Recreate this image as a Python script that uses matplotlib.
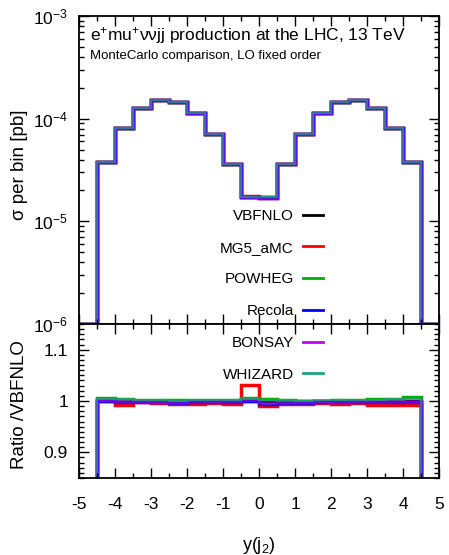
import numpy as np
import matplotlib
matplotlib.use("Agg")
import matplotlib.pyplot as plt
from matplotlib.ticker import MultipleLocator, LogLocator, FuncFormatter, NullFormatter
from matplotlib.lines import Line2D

plt.rcParams['font.family'] = ['Liberation Sans', 'DejaVu Sans']
plt.rcParams['mathtext.fontset'] = 'custom'
plt.rcParams['mathtext.rm'] = 'Liberation Sans'
plt.rcParams['mathtext.it'] = 'Liberation Sans:italic'
plt.rcParams['mathtext.bf'] = 'Liberation Sans:bold'
plt.rcParams['axes.unicode_minus'] = False

# bins of y(j2), width 0.5 between -4.5 and 4.5
bin_lo = -4.5
bin_w = 0.5

# VBFNLO cross section per bin [pb]
vbfnlo = [3.77e-5, 8.1e-5, 1.27e-4, 1.53e-4, 1.45e-4, 1.13e-4, 7.15e-5, 3.63e-5, 1.71e-5,
          1.71e-5, 3.63e-5, 7.15e-5, 1.13e-4, 1.45e-4, 1.53e-4, 1.27e-4, 8.1e-5, 3.77e-5]

# ratios to VBFNLO
r_mg5 = [1.001, 0.9915, 0.998, 0.997, 0.994, 0.995, 0.996, 0.995, 1.031,
         0.990, 0.994, 0.995, 0.996, 0.994, 0.997, 0.993, 0.993, 0.993]
r_powheg = [1.005, 1.004, 1.002, 1.001, 1.001, 1.002, 1.002, 1.002, 1.005,
            1.004, 1.002, 1.000, 1.000, 1.001, 1.002, 1.004, 1.003, 1.007]
r_recola = [1.000, 0.999, 0.998, 0.998, 0.997, 0.998, 0.998, 0.998, 1.000,
            0.995, 0.996, 0.997, 0.998, 0.998, 0.998, 0.999, 0.998, 0.998]
r_bonsay = [1.001, 1.000, 1.000, 0.999, 0.999, 1.000, 1.000, 1.000, 1.002,
            0.998, 0.998, 0.999, 1.000, 0.999, 1.000, 1.000, 1.000, 1.000]
r_whizard = [1.004, 1.003, 1.002, 1.001, 1.000, 1.002, 1.002, 1.002, 1.003,
             1.002, 1.002, 1.000, 1.001, 1.002, 1.002, 1.002, 1.003, 1.004]

names = ['VBFNLO', 'MG5_aMC', 'POWHEG', 'Recola', 'BONSAY', 'WHIZARD']
colors = ['#000000', '#ff0000', '#00b000', '#0000ff', '#c000ff', '#20a080']
ratios = [[1.0] * len(vbfnlo), r_mg5, r_powheg, r_recola, r_bonsay, r_whizard]
lws = [2.5, 2.5, 2.5, 2.5, 2.5, 1.2]
alphas = [1.0, 1.0, 1.0, 0.8, 0.5, 0.8]

nb = len(vbfnlo)
edges = np.concatenate(([bin_lo - bin_w], bin_lo + bin_w * np.arange(nb + 1), [bin_lo + bin_w * (nb + 1)]))

fig = plt.figure(figsize=(4.49, 5.55), dpi=100)
W, H = 449.0, 555.0
ax1 = fig.add_axes([79 / W, 1 - 324 / H, 360 / W, 308 / H])
ax2 = fig.add_axes([79 / W, 1 - 478 / H, 360 / W, 154 / H])

ymin = 1e-6
base = np.array(vbfnlo)
for n, c, r, lw, a in zip(names, colors, ratios, lws, alphas):
    vals = base * np.array(r)
    vals = np.concatenate(([ymin], vals, [ymin]))
    ax1.stairs(vals, edges, color=c, lw=lw, alpha=a, baseline=None)
    rv = np.concatenate(([0.0], np.array(r), [0.0]))
    ax2.stairs(rv, edges, color=c, lw=lw, alpha=a, baseline=None)

ax1.set_yscale('log')
ax1.set_ylim(1e-6, 1e-3)
ax1.set_xlim(-5, 5)
ax2.set_xlim(-5, 5)
ax2.set_ylim(0.85, 1.15)

for ax in (ax1, ax2):
    ax.xaxis.set_major_locator(MultipleLocator(1))
    ax.xaxis.set_minor_locator(MultipleLocator(0.5))
    ax.tick_params(which='both', direction='in', top=True, right=True, width=1, labelsize=12.5)
    ax.tick_params(which='major', length=7)
    ax.tick_params(which='minor', length=3.5)
    for s in ax.spines.values():
        s.set_linewidth(1.3)

ax1.yaxis.set_major_locator(LogLocator(base=10, numticks=10))
ax1.yaxis.set_minor_locator(LogLocator(base=10, subs=np.arange(2, 10), numticks=10))
ax1.yaxis.set_minor_formatter(NullFormatter())
ax1.tick_params(axis='x', labelbottom=False)
ax1.tick_params(axis='y', pad=8)

ax2.yaxis.set_major_locator(MultipleLocator(0.1))
ax2.yaxis.set_minor_locator(MultipleLocator(0.01))
ax2.yaxis.set_major_formatter(FuncFormatter(lambda v, p: '%g' % round(v, 3)))
ax2.xaxis.set_major_formatter(FuncFormatter(lambda v, p: '%g' % v))
ax2.tick_params(axis='x', pad=14)
ax2.tick_params(axis='y', pad=8)

fig.text(90 / W, 1 - 36 / H, r'e$^{+}$mu$^{+}$ννjj production at the LHC, 13 TeV',
         fontsize=12.5, va='center', ha='left')
fig.text(90 / W, 1 - 56 / H, 'MonteCarlo comparison, LO fixed order',
         fontsize=9.5, va='center', ha='left')

fig.text(20 / W, 1 - 165 / H, 'σ per bin [pb]', rotation=90, fontsize=13.5, va='center', ha='center')
fig.text(20 / W, 1 - 405 / H, 'Ratio /VBFNLO', rotation=90, fontsize=13.5, va='center', ha='center')
fig.text(259 / W, 1 - 546 / H, r'y(j$_{2}$)', fontsize=13, va='center', ha='center')

handles = [Line2D([], [], color=c, lw=2) for c in colors]
fig.legend(handles, names, loc='upper right', bbox_to_anchor=(323 / W, 1 - 209 / H),
           frameon=False, markerfirst=False, fontsize=11, handlelength=1.3,
           handletextpad=0.6, labelspacing=1.16, borderpad=0, borderaxespad=0)

fig.savefig('out.png', dpi=100)
